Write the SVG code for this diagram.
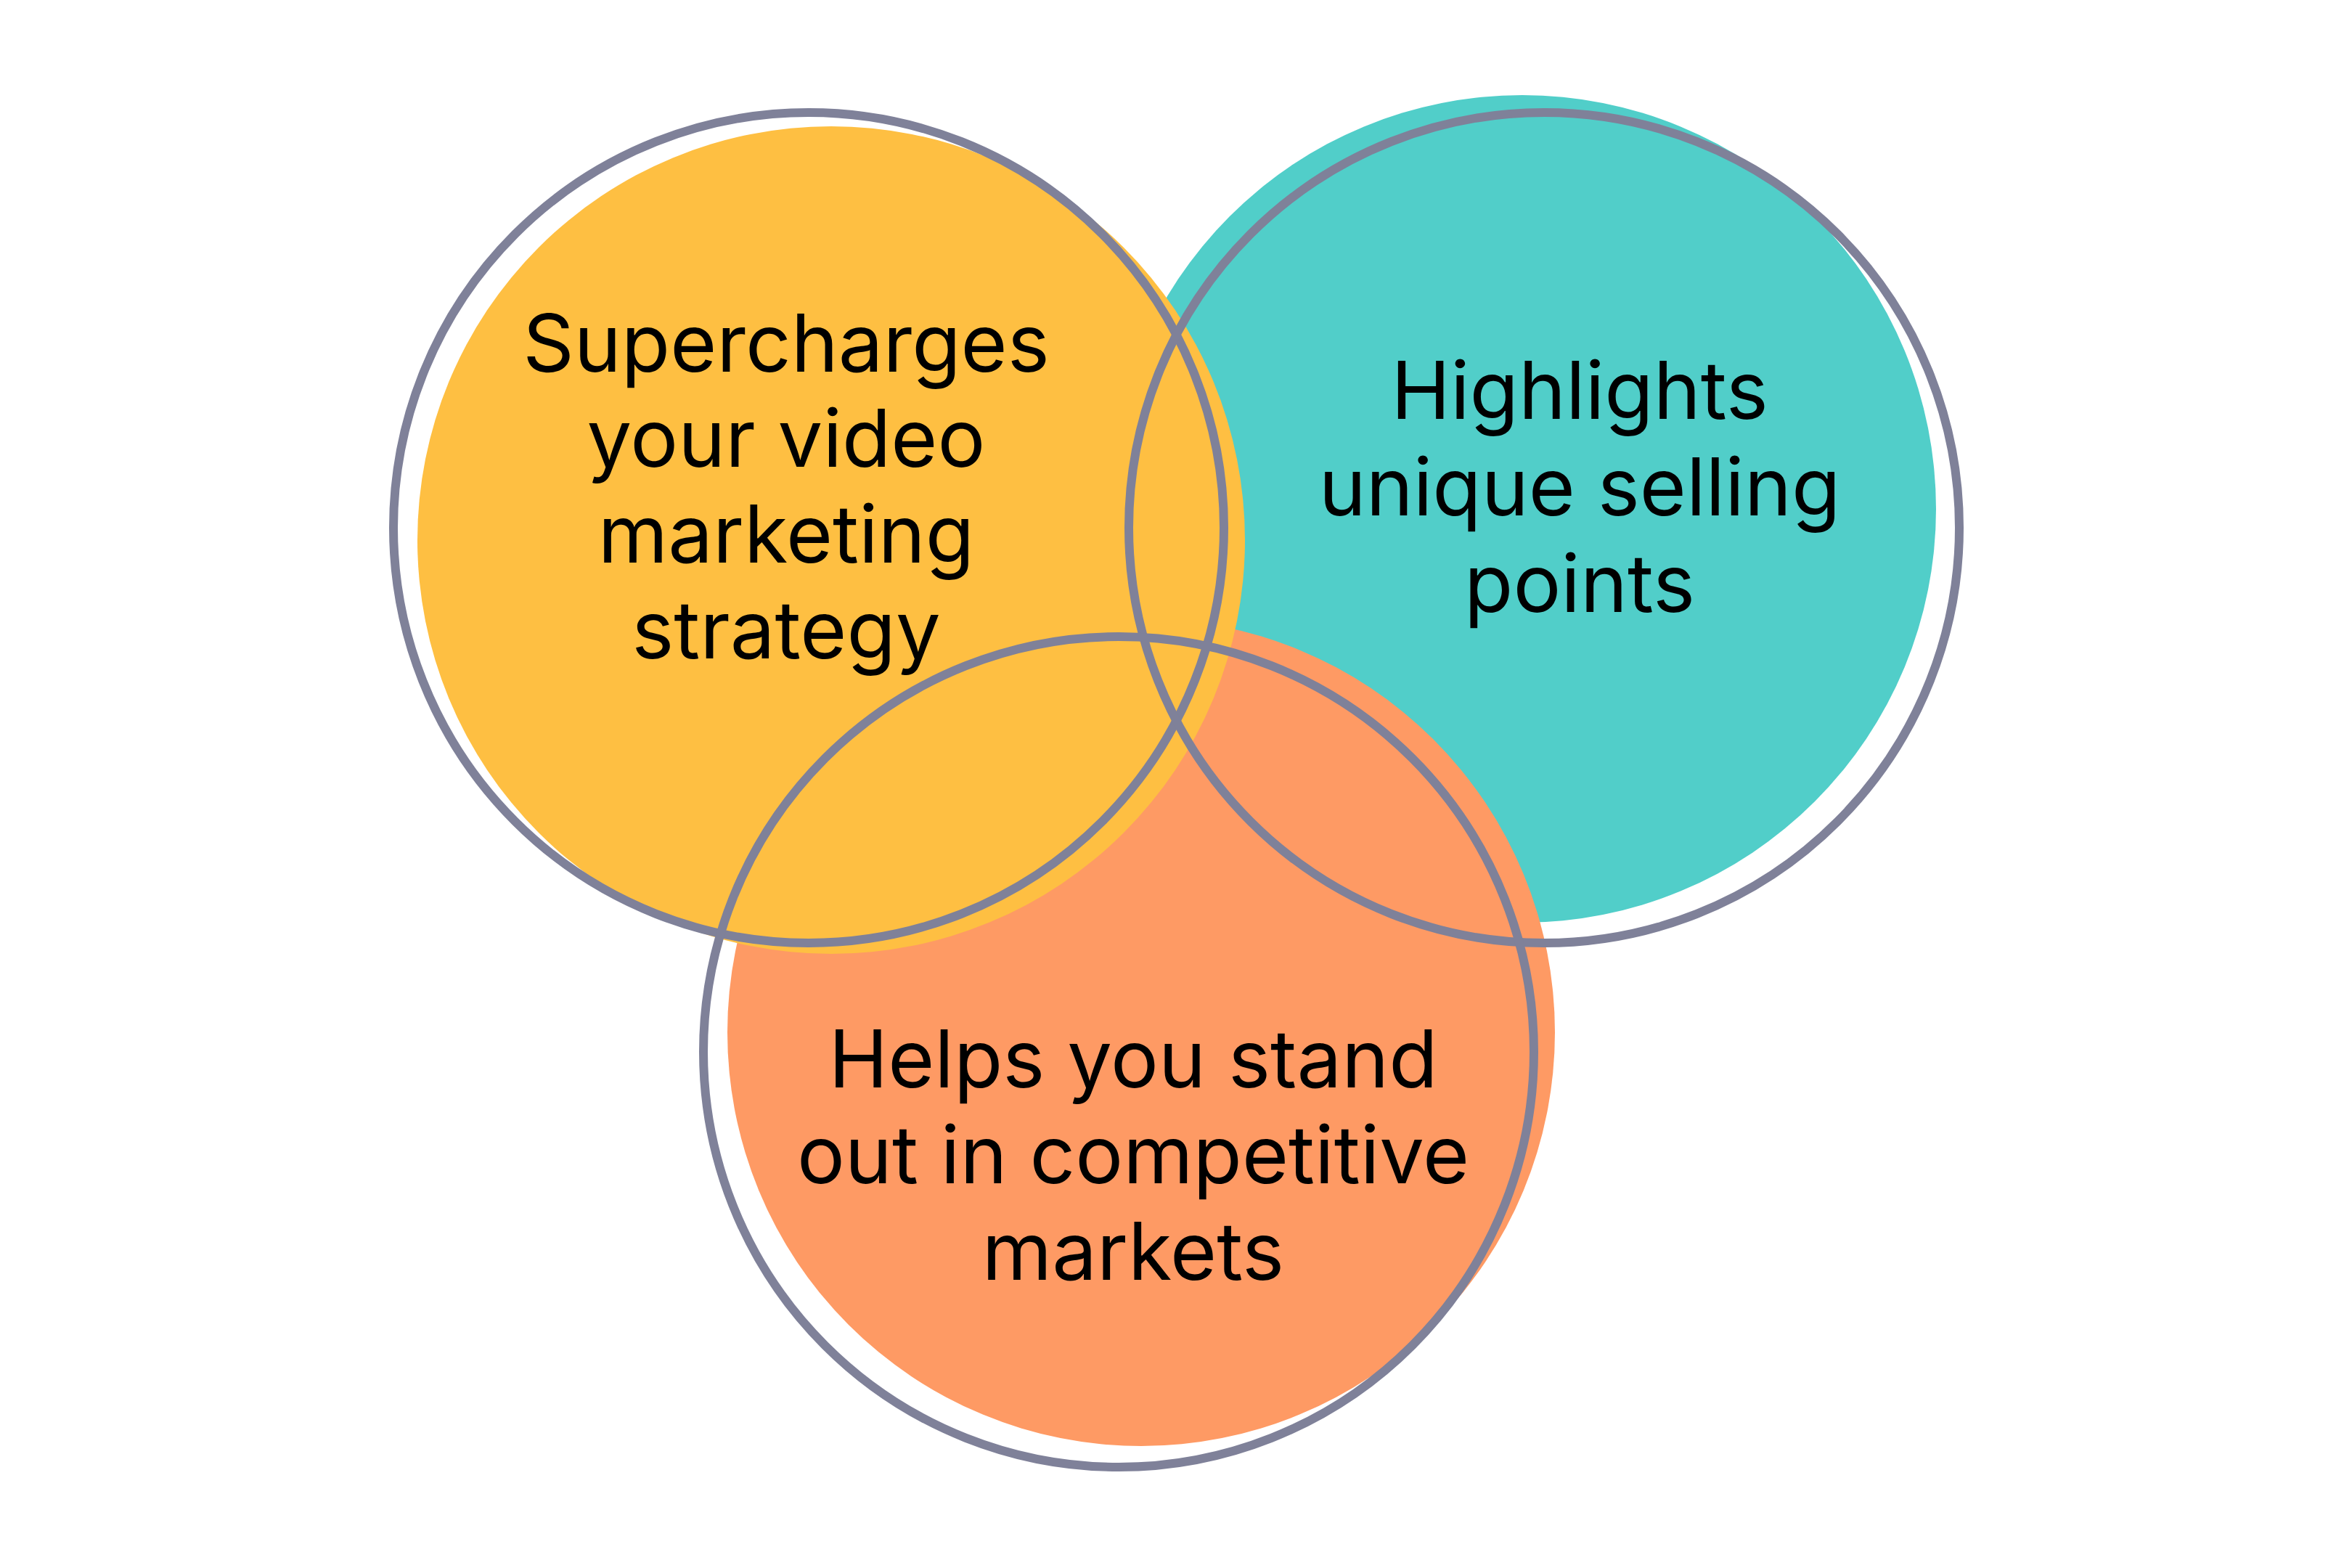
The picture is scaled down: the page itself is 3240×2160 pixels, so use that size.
<svg xmlns="http://www.w3.org/2000/svg" width="3240" height="2160" viewBox="0 0 3240 2160">
<style>
.ring{fill:none;stroke:#7F8199;stroke-width:12}
.lbl{font-family:Inter,"Liberation Sans",sans-serif;font-size:110px;fill:#000;text-anchor:middle}
</style>
<rect width="3240" height="2160" fill="#FFFFFF"/>
<g id="fills">
<circle id="fill-teal" cx="2097" cy="701" r="570" fill="#51CEC9"/>
<circle id="fill-orange" cx="1572" cy="1422" r="570" fill="#FE9A64"/>
<circle id="fill-yellow" cx="1145" cy="744" r="570" fill="#FEBF42"/>
</g>
<g id="connectors">
<circle class="ring" cx="1114" cy="727" r="572"/>
<circle class="ring" cx="2127" cy="727" r="572"/>
<circle class="ring" cx="1541" cy="1449" r="572"/>
</g>
<g id="node-yellow">
<text class="lbl" x="1083" y="512">Supercharges</text>
<text class="lbl" x="1083" y="643">your video</text>
<text class="lbl" x="1083" y="775">marketing</text>
<text class="lbl" x="1083" y="907">strategy</text>
</g>
<g id="node-teal">
<text class="lbl" x="2176" y="577">Highlights</text>
<text class="lbl" x="2176" y="710">unique selling</text>
<text class="lbl" x="2176" y="843">points</text>
</g>
<g id="node-orange">
<text class="lbl" x="1561" y="1498">Helps you stand</text>
<text class="lbl" x="1561" y="1630">out in competitive</text>
<text class="lbl" x="1561" y="1763">markets</text>
</g>
</svg>
